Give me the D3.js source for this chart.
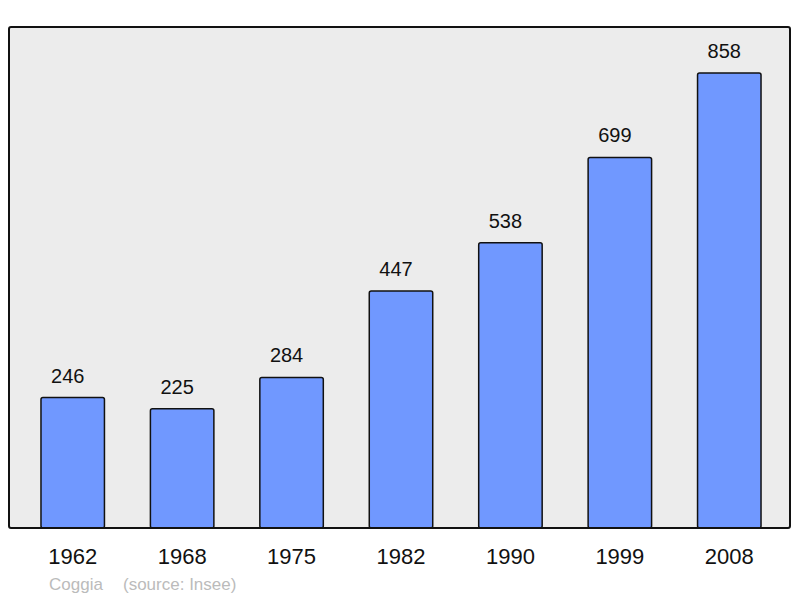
<!DOCTYPE html>
<html>
<head>
  <meta charset="utf-8">
  <script src="https://d3js.org/d3.v7.min.js"></script>
  <style>
    body { margin: 0; background: #fff; }
    text { font-family: "Liberation Sans", Arial, sans-serif; }
  </style>
</head>
<body>
  <svg id="chart"></svg>
  <script>
    // population par année
    var years = ["1962", "1968", "1975", "1982", "1990", "1999", "2008"];
    var population = [246, 225, 284, 447, 538, 699, 858];
    var commune = "Coggia";
    var source = "(source: Insee)";

    var W = 800, H = 598;
    var svg = d3.select("#chart").attr("width", W).attr("height", H);

    var frame = { left: 9, top: 27, right: 790, bottom: 528 };

    var x = d3.scaleBand()
      .domain(years)
      .range([18, 784])
      .paddingInner(0.42)
      .paddingOuter(0.21);

    var y = d3.scaleLinear()
      .domain([0, 945])
      .range([frame.bottom, frame.top]);

    // fond
    svg.append("rect")
      .attr("x", frame.left)
      .attr("y", frame.top)
      .attr("width", frame.right - frame.left)
      .attr("height", frame.bottom - frame.top)
      .attr("rx", 2)
      .attr("fill", "#ececec")
      .attr("stroke", "none");

    var data = years.map(function (d, i) { return { year: d, value: population[i] }; });

    svg.selectAll(".bar")
      .data(data)
      .enter()
      .append("rect")
      .attr("class", "bar")
      .attr("x", function (d) { return x(d.year); })
      .attr("y", function (d) { return y(d.value); })
      .attr("width", x.bandwidth())
      .attr("height", function (d) { return y(0) - y(d.value); })
      .attr("rx", 2)
      .attr("fill", "#7098ff")
      .attr("stroke", "#111")
      .attr("stroke-width", 1.5);

    // cadre par-dessus
    svg.append("rect")
      .attr("x", frame.left)
      .attr("y", frame.top)
      .attr("width", frame.right - frame.left)
      .attr("height", frame.bottom - frame.top)
      .attr("rx", 2)
      .attr("fill", "none")
      .attr("stroke", "#111")
      .attr("stroke-width", 2);

    // valeurs (légèrement décalées à gauche comme l'original)
    svg.selectAll(".val")
      .data(data)
      .enter()
      .append("text")
      .attr("class", "val")
      .attr("x", function (d) { return x(d.year) + x.bandwidth() / 2 - 5; })
      .attr("y", function (d) { return y(d.value) - 15; })
      .attr("text-anchor", "middle")
      .attr("font-size", 20)
      .attr("fill", "#111")
      .text(function (d) { return d.value; });

    var xAxis = d3.axisBottom(x).tickSize(0).tickPadding(0);
    var gx = svg.append("g")
      .attr("transform", "translate(0," + frame.bottom + ")")
      .call(xAxis);
    gx.select(".domain").remove();
    gx.selectAll("text")
      .attr("dy", null)
      .attr("y", 36)
      .attr("font-size", 22)
      .attr("font-family", "Liberation Sans, Arial, sans-serif")
      .attr("fill", "#111");

    svg.append("text")
      .attr("x", 49)
      .attr("y", 590)
      .attr("font-size", 17)
      .attr("fill", "#bbb")
      .text(commune);
    svg.append("text")
      .attr("x", 123)
      .attr("y", 590)
      .attr("font-size", 17)
      .attr("fill", "#bbb")
      .text(source);
  </script>
</body>
</html>
